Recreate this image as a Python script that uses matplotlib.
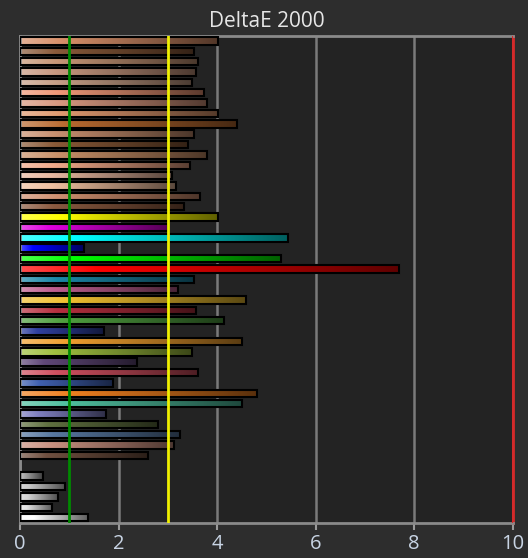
import numpy as np
import matplotlib.pyplot as plt
from matplotlib.colors import to_rgb

plt.rcParams['font.family'] = ['Open Sans', 'DejaVu Sans']

# deltaE 2000 per patch, top to bottom
values = [4.02, 3.53, 3.61, 3.57, 3.49, 3.74, 3.80, 4.02, 4.41, 3.53,
          3.40, 3.80, 3.44, 3.09, 3.17, 3.65, 3.32, 4.02, 3.01, 5.44,
          1.29, 5.30, 7.69, 3.53, 3.20, 4.59, 3.57, 4.14, 1.70, 4.51,
          3.49, 2.38, 3.61, 1.89, 4.81, 4.51, 1.74, 2.80, 3.24, 3.13,
          2.60]
colors = ['#d8906a', '#8a5a3a', '#c89878', '#c89880', '#c8a088', '#f09878',
          '#d89880', '#e09a70', '#b86a30', '#c89070', '#8a5a38', '#c89068',
          '#f0a888', '#e8b8a0', '#f0c0a0', '#d09070', '#8a5a40', '#ffff00',
          '#e000e0', '#00ffff', '#0000ff', '#00ff00', '#ff0000', '#1a88a8',
          '#c06090', '#f0c030', '#b83040', '#50a040', '#3040a0', '#f0a030',
          '#a0c040', '#604878', '#d05060', '#4060b0', '#f08020', '#50c0a0',
          '#8080c0', '#607040', '#5878a0', '#c89080', '#705040']
gray_values = [0.46, 0.92, 0.77, 0.65, 1.37]
gray_colors = ['#a8a8a8', '#c8c8c8', '#d4d4d4', '#e4e4e4', '#ffffff']

all_values = values + gray_values
all_colors = colors + gray_colors
pos = list(range(len(values))) + [len(values) + 1 + i for i in range(len(gray_values))]


def gradient(c, n=64):
    base = np.array(to_rgb(c))
    light = base + (1 - base) * 0.3
    dark = base * 0.38
    t = np.linspace(0, 1, n)
    img = np.zeros((1, n, 3))
    for k in range(3):
        img[0, :, k] = np.interp(t, [0, 0.2, 1], [light[k], base[k], dark[k]])
    return img


fig = plt.figure(figsize=(5.28, 5.58), dpi=100, facecolor='#2d2d2d')
ax = fig.add_axes([0.038, 0.063, 0.933, 0.873], facecolor='#232323')

bars = ax.barh(pos, all_values, height=0.72, color='none', edgecolor='black',
               linewidth=1.5, zorder=3)
for b, c in zip(bars, all_colors):
    x0, y0 = b.get_x(), b.get_y()
    w, h = b.get_width(), b.get_height()
    ax.imshow(gradient(c), extent=(x0, x0 + w, y0 + h, y0), aspect='auto',
              interpolation='bilinear', zorder=2.5)

ax.axvline(1, color='#008a00', lw=2, zorder=4)
ax.axvline(3, color='#f0f000', lw=2, zorder=4)
ax.axvline(10, color='#d42a2a', lw=2.2, zorder=4)

ax.set_xlim(0, 10)
ax.set_ylim(len(pos) + 0.5, -0.5)
ax.set_xticks([0, 2, 4, 6, 8, 10])
ax.set_yticks([])
ax.set_axisbelow(True)
ax.grid(axis='x', color='#7a7a7a', lw=1.8, zorder=0)

for s in ['top', 'left', 'bottom']:
    ax.spines[s].set_color('#8a8a8a')
    ax.spines[s].set_linewidth(2)
ax.spines['right'].set_color('#d42a2a')
ax.spines['right'].set_linewidth(2)

ax.tick_params(axis='x', color='#9a9a9a', labelcolor='#c8d4e4', length=5,
               width=1.5, labelsize=14.5, pad=3)
ax.set_title('DeltaE 2000', color='#e6e6e6', fontsize=15, pad=6)

plt.savefig('out.png', dpi=100, facecolor=fig.get_facecolor())
